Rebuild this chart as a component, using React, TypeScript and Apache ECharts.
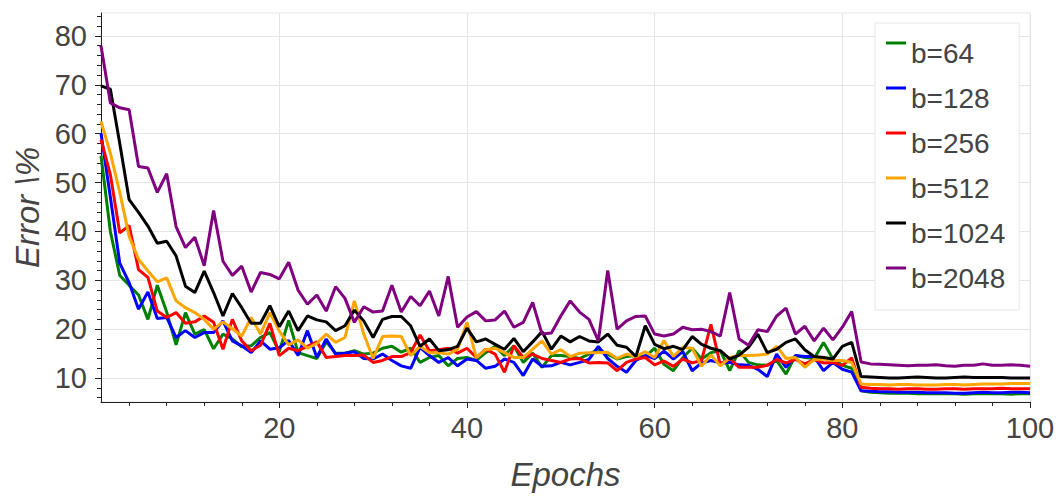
import React, { useEffect, useRef } from "react";
import * as echarts from "echarts";

// ---- data ----
const epochs: number[] = Array.from({ length: 100 }, (_, i) => i + 1);

const seriesNames = ["b=64", "b=128", "b=256", "b=512", "b=1024", "b=2048"];
const seriesColors = ["#008000", "#0000ff", "#ff0000", "#ffa500", "#000000", "#800080"];

const b64 = [
  55.5, 40, 31, 29, 27, 22, 29, 23.5, 16.8, 23.4,
  19, 19.9, 16, 19, 18, 16.4, 16.6, 18.3, 19.3, 15.4,
  21.8, 15.2, 14.6, 14, 17.4, 15.1, 15.1, 15.6, 14.9, 15.1,
  16.1, 16.5, 15.3, 16.1, 13.2, 14.2, 14.6, 12.5, 14, 14.2,
  13.6, 15.2, 16.5, 14.6, 16.6, 13.2, 15.1, 12.2, 14.6, 14.6,
  14.4, 14, 14.9, 15.8, 14.9, 13.9, 14.4, 14.6, 14.4, 16.1,
  12.8, 11.5, 14.2, 16.1, 13.9, 15.2, 15.6, 11.5, 15.6, 13.2,
  12.7, 12.6, 13.6, 10.8, 14.6, 14.2, 14, 17.3, 13.9, 12.6,
  12, 7.4, 7.1, 7.0, 6.9, 6.9, 6.9, 6.8, 6.8, 6.8,
  6.8, 6.8, 6.7, 6.8, 6.8, 6.8, 6.8, 6.7, 6.8, 6.8,
];
const b128 = [
  60.1, 47, 33.5, 29.5, 24.1, 27.6, 22.2, 22.4, 18.3, 19.7,
  18.3, 19.3, 19.3, 21.7, 17.6, 16.6, 15.2, 17.6, 15.9, 16.2,
  17.7, 14.6, 19.7, 14.2, 18, 14.9, 15.1, 15.4, 14, 13.9,
  14.9, 13.6, 12.5, 12, 16.3, 14.6, 13.2, 14.2, 12.5, 13.9,
  13.6, 12, 12.4, 13.9, 13.2, 10.5, 13.9, 12.4, 12.5, 13.2,
  12.7, 13.2, 13.8, 16.5, 14, 12.4, 11.2, 13.6, 14.6, 14,
  15.5, 13.9, 15.4, 11.5, 13.1, 13.6, 13.1, 13.2, 12.7, 12.6,
  11.8, 10.3, 14.9, 12.2, 14.6, 14.4, 14.4, 11.5, 13.2, 11.8,
  11.2, 7.4, 7.3, 7.2, 7.2, 7.1, 7.1, 7.1, 7.0, 7.0,
  7.0, 6.9, 6.9, 7.0, 7.1, 7.0, 7.0, 7.1, 7.1, 7.0,
];
const b256 = [
  58.8, 51.6, 39.7, 41.2, 32.2, 30.6, 23.7, 22.4, 23.4, 21.2,
  21.5, 22.7, 21.4, 15.9, 22, 17.6, 15.6, 16.7, 21.2, 14.6,
  16.1, 15.6, 16.5, 17.4, 14.2, 14.4, 14.6, 14.6, 14.7, 13.2,
  13.6, 14.4, 14.4, 15.2, 18.8, 15.6, 15.8, 16.1, 15.1, 16.1,
  14.2, 15.9, 14.9, 11.2, 16.6, 14.2, 14.9, 14, 13.6, 13.2,
  13.9, 14, 13.1, 13.2, 13.1, 11.5, 13.2, 13.9, 14.2, 12.7,
  13.5, 12.4, 13.9, 13.1, 13.6, 21, 12.7, 14, 12.2, 12.2,
  12.2, 12.6, 13.8, 13.1, 13.8, 12.9, 13.8, 13.1, 13.2, 12.6,
  14.1, 8.1, 7.9, 7.8, 7.8, 7.7, 7.8, 7.8, 7.7, 7.7,
  7.8, 7.8, 7.7, 7.8, 7.8, 7.8, 7.9, 7.8, 7.8, 7.8,
];
const b512 = [
  62.5, 56, 48, 39, 34.3, 31.9, 29.7, 30.5, 25.8, 24.4,
  23.4, 22, 20, 21.5, 20.1, 18.6, 22.4, 19, 23.4, 19.6,
  16.8, 17.8, 16.1, 17.1, 19, 17.3, 18.3, 25.8, 19, 14,
  18.5, 18.6, 18.5, 14.6, 16.5, 15.2, 15.2, 14.9, 15.9, 21.4,
  14.2, 15.8, 16.1, 15.2, 14.2, 14.2, 15.9, 17.6, 14.9, 15.8,
  14.4, 15.1, 15.2, 15.2, 15.3, 14, 14.9, 14.4, 15.4, 14.2,
  17.7, 14.4, 16.3, 16.1, 12.4, 14.7, 12.5, 14.2, 14.6, 14.6,
  14.7, 14.9, 16.5, 14, 14.2, 12.2, 13.8, 13.9, 13.6, 13.6,
  13.2, 8.8, 8.7, 8.7, 8.6, 8.7, 8.7, 8.6, 8.6, 8.6,
  8.7, 8.7, 8.6, 8.7, 8.8, 8.8, 8.8, 8.9, 8.9, 8.9,
];
const b1024 = [
  69.8, 69.1, 58, 46.5, 43.9, 41.1, 37.6, 38, 35, 28.8,
  27.5, 31.9, 27.5, 22.7, 27.3, 24.4, 21.2, 21.2, 24.8, 20.5,
  23.7, 19.7, 22.7, 21.9, 21.5, 19.7, 20.7, 23.9, 21.7, 18.3,
  22, 22.6, 22.6, 20.7, 16.5, 18, 15.6, 15.8, 16.5, 20.2,
  17.4, 18, 16.9, 15.9, 18.1, 15.4, 17.4, 19.5, 15.9, 18.6,
  17.4, 18.5, 17.6, 17.4, 19, 16.7, 16.3, 14.4, 20.7, 16.9,
  16, 16.5, 15.8, 18.5, 16.9, 16.1, 15.6, 13.9, 14.7, 16.3,
  19, 15.2, 15.9, 17.3, 18, 15.8, 14.4, 14.2, 13.9, 16.5,
  17.3, 10.3, 10.2, 10.1, 10.0, 10.0, 10.1, 10.2, 10.1, 10.0,
  10.0, 10.1, 10.2, 10.1, 10.1, 10.1, 10.1, 10.0, 10.0, 10.0,
];
const b2048 = [
  78, 66.3, 65.3, 64.9, 53.3, 53, 48, 51.8, 41, 36.7,
  38.8, 33, 44.3, 33.9, 31, 32.9, 27.6, 31.6, 31.2, 30.3,
  33.7, 28, 25.1, 27, 23.7, 28.7, 26.3, 21.4, 24.6, 23.5,
  23.7, 29, 23.5, 26.7, 24.8, 27.8, 22.7, 30.8, 20.4, 22.5,
  23.6, 21.7, 21.9, 23.7, 20.4, 21.4, 25.5, 19, 19.2, 22.7,
  25.8, 23.5, 22, 17.6, 32, 20, 21.7, 22.6, 22.7, 19,
  18.6, 19, 20.4, 19.9, 20, 19.5, 18.6, 27.5, 18, 16.7,
  19.9, 19.5, 22.7, 24.3, 19, 20.6, 17.6, 20.2, 17.8, 20.4,
  23.6, 13.3, 12.9, 12.8, 12.7, 12.6, 12.5, 12.6, 12.6, 12.7,
  12.5, 12.4, 12.6, 12.6, 12.9, 12.6, 12.6, 12.7, 12.6, 12.4,
];
const seriesValues = [b64, b128, b256, b512, b1024, b2048];

const xMajorTicks = [20, 40, 60, 80, 100];
const xMinorTicks = [4, 8, 12, 16, 24, 28, 32, 36, 44, 48, 52, 56, 64, 68, 72, 76, 84, 88, 92, 96];
const yMajorTicks = [10, 20, 30, 40, 50, 60, 70, 80];
const yMinorTicks = [6, 8, 12, 14, 16, 18, 22, 24, 26, 28, 32, 34, 36, 38, 42, 44, 46, 48, 52, 54, 56, 58, 62, 64, 66, 68, 72, 74, 76, 78, 82, 84];

const FONT = "'Liberation Sans', Arial, Helvetica, sans-serif";
const TEXT = "#444444";
const AXIS = "#222222";
const GRIDC = "#e5e5e5";

export default function App() {
  const ref = useRef<HTMLDivElement>(null);
  useEffect(() => {
    document.body.style.margin = "0";
    if (!ref.current) return;
    const chart = echarts.init(ref.current, null, { renderer: "svg" });
    const xMin = 1, xMax = 100, yMin = 5.1, yMax = 84.7;
    chart.setOption({
      animation: false,
      backgroundColor: "#ffffff",
      grid: {
        left: 101, right: 32, top: 13, bottom: 93,
        show: true, borderColor: GRIDC, borderWidth: 1, backgroundColor: "transparent",
      },
      legend: {
        data: seriesNames,
        orient: "vertical",
        left: 875,
        top: 23,
        padding: [16, 14, 18, 11],
        itemGap: 17,
        itemWidth: 20,
        itemHeight: 23,
        icon: "path://M0,0L20,0L20,3L0,3Z M0,22.95L0.05,22.95L0.05,23L0,23Z",
        backgroundColor: "#ffffff",
        borderColor: "#e8e8e8",
        borderWidth: 1,
        textStyle: { fontFamily: FONT, fontSize: 28, color: TEXT },
        itemStyle: { borderWidth: 0 },
      },
      xAxis: [
        {
          type: "value", min: xMin, max: xMax,
          name: "Epochs", nameLocation: "middle", nameGap: 56,
          nameTextStyle: { fontFamily: FONT, fontSize: 33, fontStyle: "italic", color: TEXT },
          axisLine: { show: true, lineStyle: { color: AXIS, width: 1 } },
          axisTick: { show: true, customValues: xMajorTicks, length: 6, lineStyle: { color: AXIS } },
          axisLabel: { customValues: xMajorTicks, margin: 11, fontFamily: FONT, fontSize: 29, color: TEXT },
          splitLine: { show: true, lineStyle: { color: GRIDC, width: 1 } },
        },
        {
          type: "value", min: xMin, max: xMax, position: "bottom", gridIndex: 0,
          axisLine: { show: false },
          axisTick: { show: true, customValues: xMinorTicks, length: 4, lineStyle: { color: AXIS } },
          axisLabel: { show: false },
          splitLine: { show: false },
        },
      ],
      yAxis: [
        {
          type: "value", min: yMin, max: yMax,
          name: "Error \\%", nameLocation: "middle", nameGap: 53,
          nameTextStyle: { fontFamily: FONT, fontSize: 33, fontStyle: "italic", color: TEXT },
          axisLine: { show: true, lineStyle: { color: AXIS, width: 1 } },
          axisTick: { show: true, customValues: yMajorTicks, length: 6, lineStyle: { color: AXIS } },
          axisLabel: { customValues: yMajorTicks, margin: 14, fontFamily: FONT, fontSize: 29, color: TEXT },
          splitLine: { show: true, lineStyle: { color: GRIDC, width: 1 } },
        },
        {
          type: "value", min: yMin, max: yMax, position: "left", gridIndex: 0,
          axisLine: { show: false },
          axisTick: { show: true, customValues: yMinorTicks, length: 4, lineStyle: { color: AXIS } },
          axisLabel: { show: false },
          splitLine: { show: false },
        },
      ],
      series: seriesNames.map((name, si) => ({
        name,
        type: "line",
        xAxisIndex: 0,
        yAxisIndex: 0,
        symbol: "none",
        showSymbol: false,
        color: seriesColors[si],
        itemStyle: { color: seriesColors[si] },
        lineStyle: { color: seriesColors[si], width: 3 },
        data: epochs.map((e, i) => [e, seriesValues[si][i]]),
      })),
    });
    return () => chart.dispose();
  }, []);
  return <div ref={ref} style={{ width: 1062, height: 496 }} />;
}
